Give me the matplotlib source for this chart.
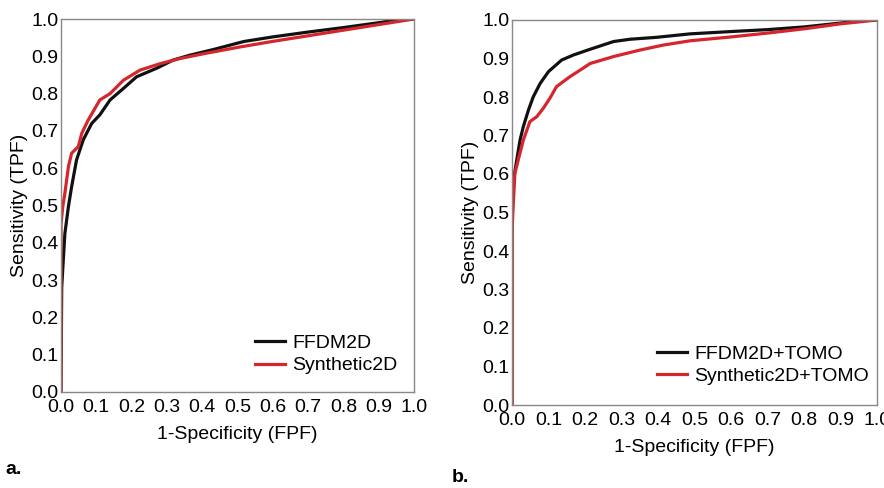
import matplotlib
matplotlib.use("Agg")
import matplotlib.pyplot as plt
import numpy as np

plt.rcParams['font.family'] = ['Liberation Sans', 'DejaVu Sans']

# panel a: FFDM2D vs Synthetic2D
a_ffdm_fpf = [0, 0.002, 0.005, 0.011, 0.021, 0.030, 0.044, 0.063, 0.087, 0.11, 0.139, 0.177,
              0.214, 0.271, 0.318, 0.365, 0.431, 0.507, 0.52, 0.6, 0.7, 0.8, 0.9, 0.95, 1.0]
a_ffdm_tpf = [0, 0.28, 0.33, 0.425, 0.497, 0.55, 0.622, 0.676, 0.72, 0.743, 0.783, 0.814,
              0.845, 0.868, 0.89, 0.903, 0.918, 0.937, 0.94, 0.952, 0.965, 0.977, 0.99, 0.997, 1.0]
a_syn_fpf = [0, 0.0, 0.005, 0.011, 0.021, 0.030, 0.049, 0.059, 0.077, 0.11, 0.139, 0.177,
             0.224, 0.28, 0.337, 0.41, 0.507, 0.6, 0.7, 0.8, 0.9, 1.0]
a_syn_tpf = [0, 0.45, 0.497, 0.533, 0.604, 0.64, 0.658, 0.694, 0.729, 0.783, 0.80, 0.836,
             0.863, 0.88, 0.894, 0.908, 0.925, 0.94, 0.955, 0.97, 0.985, 1.0]

# panel b: with TOMO
b_ffdm_fpf = [0, 0.0, 0.004, 0.013, 0.022, 0.031, 0.045, 0.058, 0.077, 0.10, 0.136, 0.168,
              0.214, 0.278, 0.323, 0.396, 0.488, 0.6, 0.7, 0.8, 0.9, 0.95, 1.0]
b_ffdm_tpf = [0, 0.48, 0.584, 0.636, 0.688, 0.723, 0.766, 0.80, 0.835, 0.866, 0.896, 0.909,
              0.924, 0.944, 0.95, 0.955, 0.964, 0.97, 0.975, 0.982, 0.992, 0.998, 1.0]
b_syn_fpf = [0, 0.0, 0.004, 0.008, 0.017, 0.031, 0.049, 0.068, 0.086, 0.104, 0.122, 0.159,
             0.195, 0.214, 0.278, 0.351, 0.415, 0.488, 0.6, 0.7, 0.8, 0.9, 1.0]
b_syn_tpf = [0, 0.45, 0.532, 0.602, 0.636, 0.688, 0.736, 0.749, 0.771, 0.797, 0.827, 0.853,
             0.875, 0.887, 0.905, 0.922, 0.935, 0.946, 0.956, 0.966, 0.977, 0.99, 1.0]

ticks = np.round(np.arange(0, 1.01, 0.1), 1)
tick_labels = ['%.1f' % t for t in ticks]

BLACK = '#111111'
RED = '#d6262d'
FS = 14

fig = plt.figure(figsize=(8.84, 4.88), dpi=100)
ax1 = fig.add_axes([61/884, 1-392/488, 353/884, 373/488])
ax2 = fig.add_axes([512/884, 1-405/488, 365/884, 385/488])

panels = [
    (ax1, a_ffdm_fpf, a_ffdm_tpf, a_syn_fpf, a_syn_tpf, 'FFDM2D', 'Synthetic2D', (0.50, 0.0)),
    (ax2, b_ffdm_fpf, b_ffdm_tpf, b_syn_fpf, b_syn_tpf, 'FFDM2D+TOMO', 'Synthetic2D+TOMO', (0.35, 0.006)),
]

for ax, fx, fy, sx, sy, l1, l2, lpos in panels:
    ax.plot(fx, fy, color=BLACK, lw=2.3, label=l1, solid_joinstyle='round')
    ax.plot(sx, sy, color=RED, lw=2.3, label=l2, solid_joinstyle='round')
    ax.set_xlim(0, 1)
    ax.set_ylim(0, 1)
    ax.set_xticks(ticks)
    ax.set_xticklabels(tick_labels)
    ax.set_yticks(ticks)
    ax.set_yticklabels(tick_labels)
    ax.tick_params(axis='y', length=0, pad=2, labelsize=FS)
    ax.tick_params(axis='x', length=0, pad=5, labelsize=FS)
    for s in ax.spines.values():
        s.set_color('#888888')
        s.set_linewidth(1.0)
    ax.set_xlabel('1-Specificity (FPF)', fontsize=FS, labelpad=7)
    ax.set_ylabel('Sensitivity (TPF)', fontsize=FS, labelpad=2)
    ax.legend(loc='lower left', bbox_to_anchor=lpos, frameon=False, fontsize=FS,
              handlelength=1.55, handletextpad=0.35, labelspacing=0.25)

fig.text(5/884, 1-470/488, 'a.', fontsize=FS, fontweight='bold', va='center')
fig.text(452/884, 1-478/488, 'b.', fontsize=FS, fontweight='bold', va='center')

fig.savefig('out.png', dpi=100)
